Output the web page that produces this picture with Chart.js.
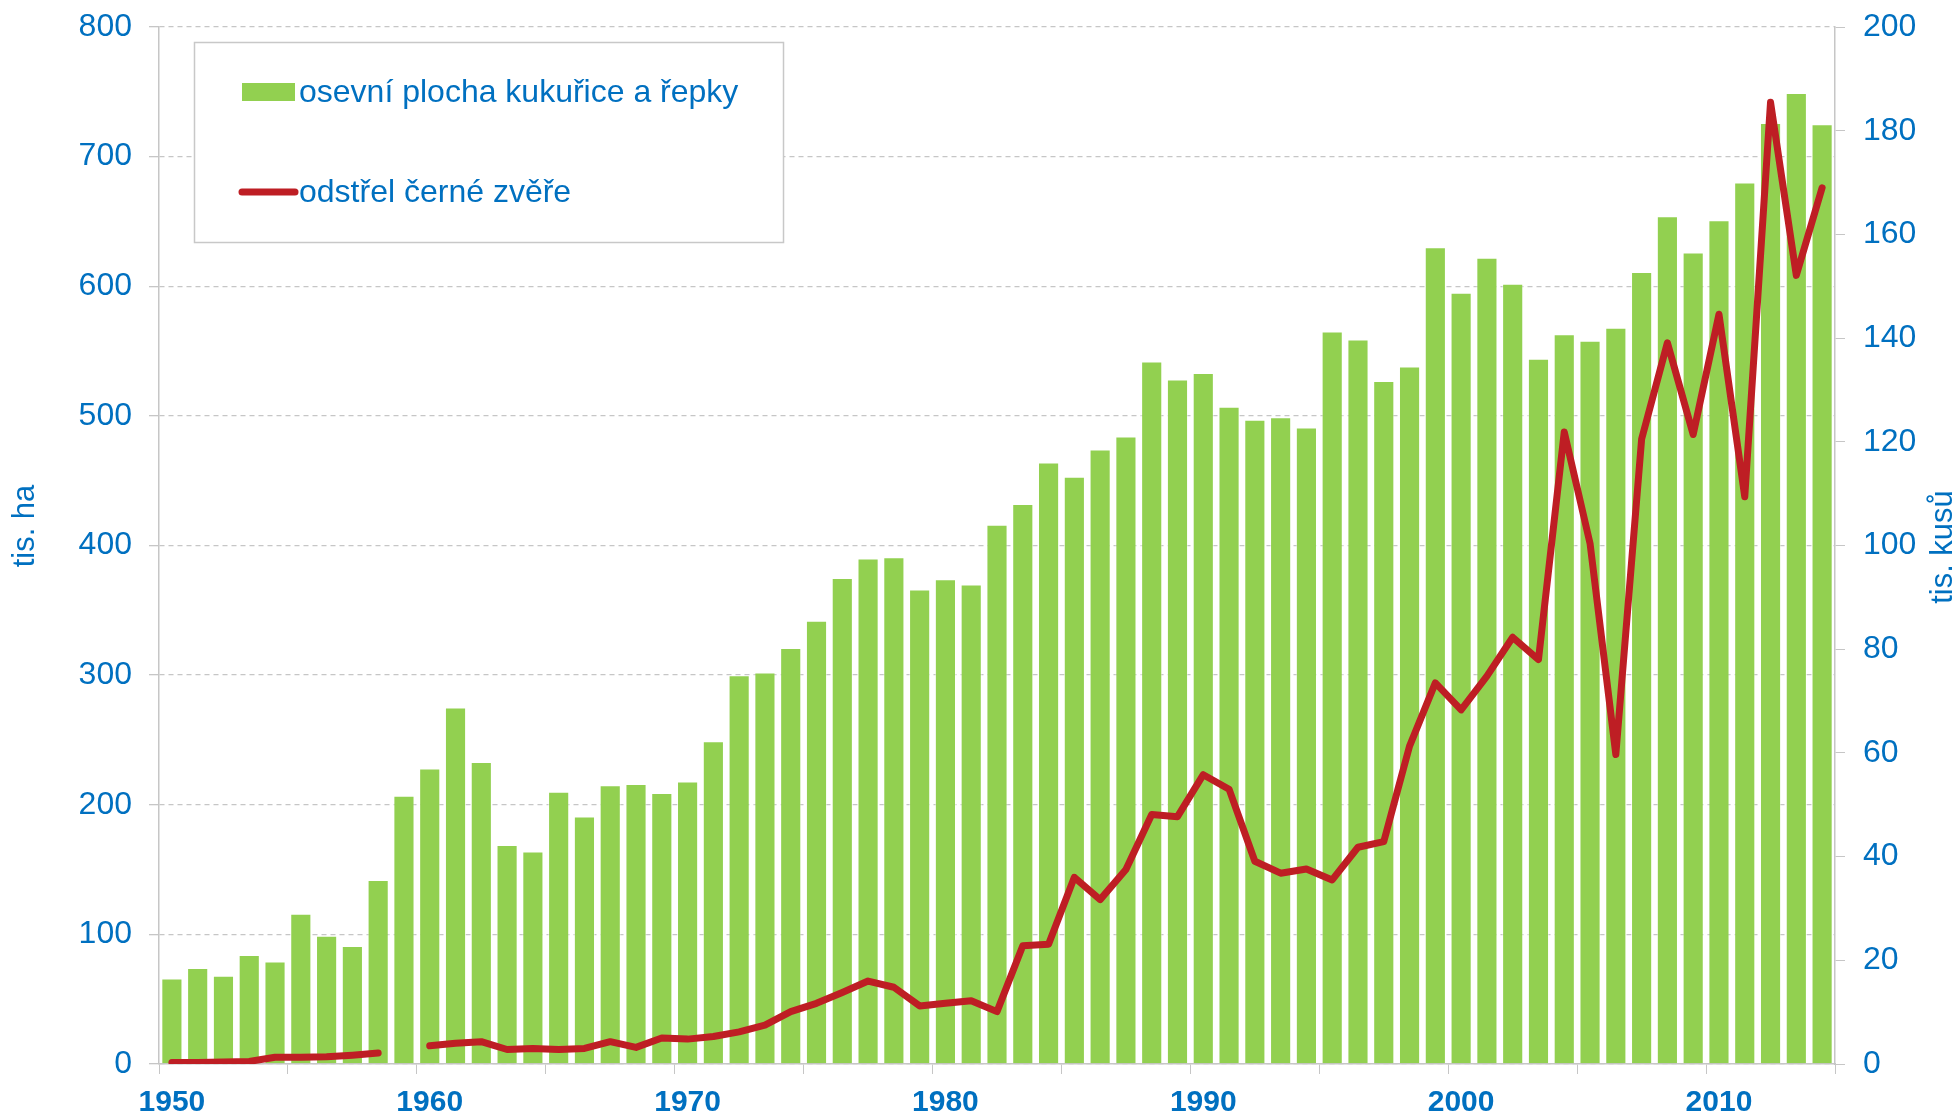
<!DOCTYPE html>
<html lang="cs">
<head>
<meta charset="utf-8">
<title>Osevní plocha kukuřice a řepky / odstřel černé zvěře</title>
<script src="https://cdn.jsdelivr.net/npm/chart.js@4.4.1/dist/chart.umd.min.js"></script>
<style>
  html, body { margin: 0; padding: 0; background: #fff; }
  #wrap { width: 1959px; height: 1117px; }
</style>
</head>
<body>
<div id="wrap"><canvas id="chart" width="1959" height="1117"></canvas></div>
<script>
/* Osevní plocha kukuřice a řepky (tis. ha) vs. odstřel černé zvěře (tis. kusů), 1950–2014 */

var YEARS = [];
for (var y = 1950; y <= 2014; y++) YEARS.push(String(y));

// tis. ha — left axis
var AREA = [
  66, 74, 68, 84, 79, 116, 99, 91, 142, 207,
  228, 275, 233, 169, 164, 210, 191, 215, 216, 209,
  218, 249, 300, 302, 321, 342, 375, 390, 391, 366,
  374, 370, 416, 432, 464, 453, 474, 484, 542, 528,
  533, 507, 497, 499, 491, 565, 559, 527, 538, 630,
  595, 622, 602, 544, 563, 558, 568, 611, 654, 626,
  651, 680, 726, 749, 725
];

// tis. kusů — right axis (1959 missing in the source)
var CULL = [
  0.3, 0.3, 0.4, 0.5, 1.3, 1.3, 1.4, 1.7, 2.1, null,
  3.5, 4.0, 4.3, 2.8, 3.0, 2.8, 3.0, 4.3, 3.2, 5.0,
  4.8, 5.3, 6.2, 7.5, 10.1, 11.7, 13.8, 16.0, 14.8, 11.2,
  11.7, 12.2, 10.1, 22.8, 23.1, 36.0, 31.7, 37.5, 48.1, 47.7,
  55.8, 53.0, 39.1, 36.8, 37.6, 35.5, 41.8, 42.9, 61.3, 73.5,
  68.3, 74.8, 82.3, 78.0, 121.9, 100.4, 59.7, 120.5, 139.1, 121.4,
  144.6, 109.4, 185.5, 152.1, 169.0
];

var LEFT_TICKS = [0, 100, 200, 300, 400, 500, 600, 700, 800];
var RIGHT_TICKS = [0, 20, 40, 60, 80, 100, 120, 140, 160, 180, 200];
var LABEL_AREA = 'osevní plocha kukuřice a řepky';
var LABEL_CULL = 'odstřel černé zvěře';
var TITLE_LEFT = 'tis. ha';
var TITLE_RIGHT = 'tis. kusů';

(function () {
  var GREEN = '#92d050';
  var RED   = '#be1e24';
  var BLUE  = '#0070c0';
  var GRID  = '#c6c6c6';
  var FONT  = "'Liberation Sans', Arial, sans-serif";

  Chart.defaults.font.family = FONT;
  Chart.defaults.color = BLUE;

  // fixed axis widths; label overhang must not push the plot area down
  function fitY(width) {
    return function (s) { s.width = width; s.paddingTop = 0; s.paddingBottom = 0; };
  }

  // legend box + rotated axis titles, drawn on top of the plot
  var decor = {
    id: 'decor',
    afterDraw: function (chart) {
      var ctx = chart.ctx;
      ctx.save();
      // legend frame
      ctx.fillStyle = '#fff';
      ctx.fillRect(194, 42, 589, 200);
      ctx.strokeStyle = '#c8c8c8';
      ctx.lineWidth = 1.5;
      ctx.strokeRect(194.5, 42.5, 589, 200);
      // bar swatch
      ctx.fillStyle = GREEN;
      ctx.fillRect(242, 83, 53, 18);
      // line swatch
      ctx.strokeStyle = RED;
      ctx.lineWidth = 7;
      ctx.lineCap = 'round';
      ctx.beginPath();
      ctx.moveTo(242, 192);
      ctx.lineTo(295, 192);
      ctx.stroke();
      ctx.fillStyle = BLUE;
      ctx.font = '32px ' + FONT;
      ctx.textAlign = 'left';
      ctx.textBaseline = 'middle';
      ctx.fillText(LABEL_AREA, 299, 93);
      ctx.fillText(LABEL_CULL, 299, 193);
      // axis titles (both read bottom-to-top)
      ctx.font = '31px ' + FONT;
      ctx.textAlign = 'center';
      ctx.save();
      ctx.translate(25, 526);
      ctx.rotate(-Math.PI / 2);
      ctx.fillText(TITLE_LEFT, 0, 0);
      ctx.restore();
      ctx.save();
      ctx.translate(1943, 547);
      ctx.rotate(-Math.PI / 2);
      ctx.fillText(TITLE_RIGHT, 0, 0);
      ctx.restore();
      ctx.restore();
    }
  };

  new Chart(document.getElementById('chart'), {
    data: {
      labels: YEARS,
      datasets: [
        { type: 'line', label: LABEL_CULL, data: CULL, yAxisID: 'y1', order: 0,
          borderColor: RED, borderWidth: 7, pointRadius: 0, spanGaps: false,
          borderCapStyle: 'round', borderJoinStyle: 'round', tension: 0 },
        { type: 'bar', label: LABEL_AREA, data: AREA, yAxisID: 'y', order: 1,
          backgroundColor: GREEN, borderColor: 'rgba(255,255,255,0.5)', borderWidth: 1,
          barPercentage: 0.82, categoryPercentage: 1.0 }
      ]
    },
    options: {
      responsive: false,
      animation: false,
      layout: { padding: { top: 27, left: 0, right: 0, bottom: 0 } },
      plugins: { legend: { display: false }, tooltip: { enabled: false } },
      scales: {
        x: {
          offset: true,
          afterFit: function (s) { s.height = 53; },
          grid: {
            offset: true, drawOnChartArea: false, tickLength: 10,
            color: function (c) { return (c.index === undefined || c.index % 5 === 0) ? GRID : 'rgba(0,0,0,0)'; }
          },
          border: { color: GRID, width: 1.5 },
          ticks: {
            autoSkip: false, maxRotation: 0, padding: 11,
            font: { size: 30, weight: 'bold' },
            callback: function (v, i) { return (1950 + i) % 10 === 0 ? YEARS[i] : ''; }
          }
        },
        y: {
          position: 'left', min: 0, max: 800,
          afterFit: fitY(159),
          afterBuildTicks: function (s) { s.ticks = LEFT_TICKS.map(function (v) { return { value: v }; }); },
          grid: { color: GRID, tickLength: 10, lineWidth: 1.3 },
          border: { color: GRID, width: 1.5, dash: [5, 4] },
          ticks: { padding: 17, font: { size: 32 } }
        },
        y1: {
          position: 'right', min: 0, max: 200,
          afterFit: fitY(124),
          afterBuildTicks: function (s) { s.ticks = RIGHT_TICKS.map(function (v) { return { value: v }; }); },
          grid: { drawOnChartArea: false, color: GRID, tickLength: 10 },
          border: { color: GRID, width: 1.5 },
          ticks: { padding: 18, font: { size: 32 } }
        }
      }
    },
    plugins: [decor]
  });
})();
</script>
</body>
</html>
